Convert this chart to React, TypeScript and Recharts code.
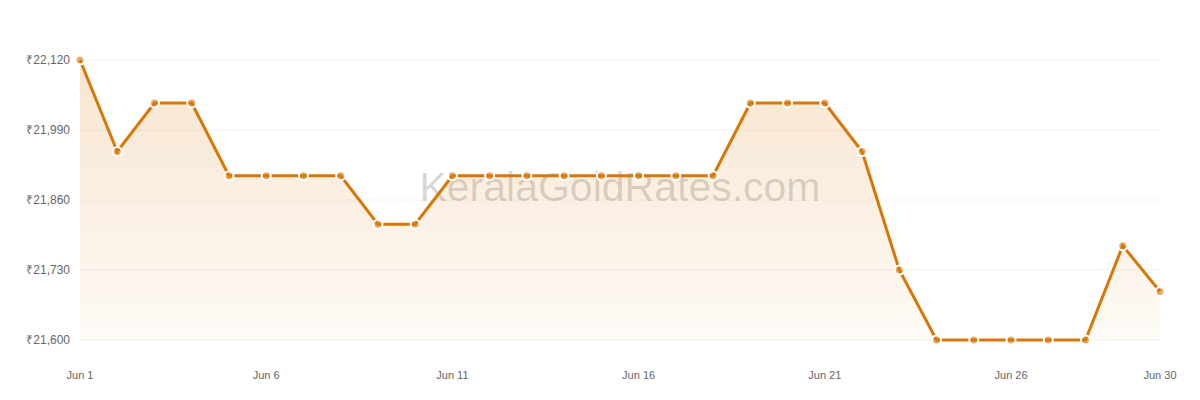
import React from 'react';
import { ComposedChart, Area, XAxis, YAxis, CartesianGrid } from 'recharts';

const days = [
  1, 2, 3, 4, 5, 6, 7, 8, 9, 10, 11, 12, 13, 14, 15, 16, 17, 18, 19, 20, 21, 22, 23, 24, 25, 26, 27, 28, 29, 30,
];
const rates = [
  22120, 21950, 22040, 22040, 21905, 21905, 21905, 21905, 21815, 21815, 21905, 21905, 21905, 21905, 21905,
  21905, 21905, 21905, 22040, 22040, 22040, 21950, 21730, 21600, 21600, 21600, 21600, 21600, 21775, 21690,
];
const dayTicks = [1, 6, 11, 16, 21, 26, 30];
const rateTicks = [21600, 21730, 21860, 21990, 22120];

const data = days.map((day, i) => ({ day, rate: rates[i] }));

const fmtRate = (v: number) => '₹' + v.toLocaleString('en-US');

export default function App() {
  return (
    <div style={{ position: 'absolute', left: 0, top: 0, width: 1200, height: 400, fontFamily: 'Liberation Sans, Arial, sans-serif' }}>
      <ComposedChart width={1200} height={400} data={data} margin={{ top: 60, right: 40, bottom: 0, left: 0 }}>
        <defs>
          <linearGradient id="goldFill" x1="0" y1="0" x2="0" y2="1">
            <stop offset="0%" stopColor="#d97706" stopOpacity={0.32} />
            <stop offset="100%" stopColor="#d97706" stopOpacity={0.06} />
          </linearGradient>
        </defs>
        <CartesianGrid vertical={false} stroke="#f3f3f3" />
        <text x={620} y={187} textAnchor="middle" dominantBaseline="central" fontSize={41} fill="rgba(0,0,0,0.16)">
          KeralaGoldRates.com
        </text>
        <XAxis
          dataKey="day"
          type="number"
          domain={[1, 30]}
          ticks={dayTicks}
          tickFormatter={(d: number) => 'Jun ' + d}
          axisLine={false}
          tickLine={false}
          height={60}
          tickMargin={25}
          tick={{ fill: '#666', fontSize: 11 }}
          interval={0}
        />
        <YAxis
          width={80}
          domain={[21600, 22120]}
          ticks={rateTicks}
          tickFormatter={fmtRate}
          axisLine={false}
          tickLine={false}
          tickMargin={4}
          tick={{ fill: '#666', fontSize: 12 }}
        />
        <Area
          type="linear"
          dataKey="rate"
          stroke="#d97706"
          strokeWidth={3}
          fill="url(#goldFill)"
          dot={{ r: 4.5, fill: '#d97706', stroke: '#fff', strokeWidth: 2 }}
          activeDot={false}
          isAnimationActive={false}
        />
      </ComposedChart>
    </div>
  );
}
